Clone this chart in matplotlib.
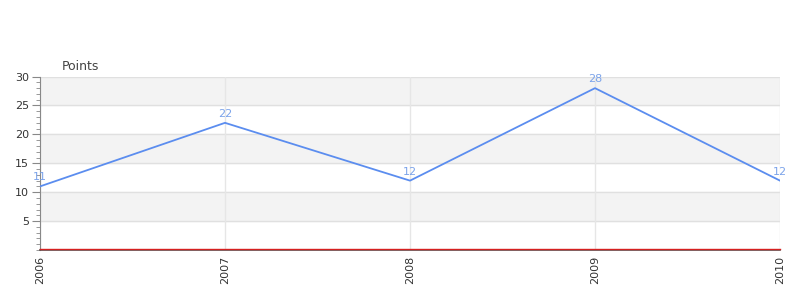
import matplotlib.pyplot as plt
import matplotlib.transforms as mtransforms

years = ["2006", "2007", "2008", "2009", "2010"]
points = [11, 22, 12, 28, 12]

fig = plt.figure(figsize=(8, 3), dpi=100)
ax = fig.add_axes([0.05, 0.1667, 0.925, 0.578])

x = list(range(len(years)))

# alternating bands
for lo in [5, 15, 25]:
    ax.axhspan(lo, lo + 5, color="#f3f3f3", zorder=0)
for y in [5, 10, 15, 20, 25, 30]:
    ax.axhline(y, color="#e0e0e0", lw=1, zorder=1)
for xi in x:
    ax.axvline(xi, color="#e6e6e6", lw=1, zorder=1)

ax.plot(x, points, color="#5b8def", lw=1.3, zorder=3)
for xi, v in zip(x, points):
    ax.text(xi, v + 0.7, str(v), color="#7ba3ea", fontsize=8, ha="center", va="bottom", zorder=4)

# red zero line sitting just above the dark axis line
shift = mtransforms.offset_copy(ax.transData, fig=fig, x=0, y=1, units="dots")
ax.plot([0, len(years) - 1], [0, 0], color="#d62020", lw=1, zorder=5,
        transform=shift, clip_on=False)

ax.set_xlim(0, len(years) - 1)
ax.set_ylim(0, 30)
ax.set_xticks(x)
ax.set_xticklabels(years, rotation=90, fontsize=8, color="#333333")
ax.set_yticks([5, 10, 15, 20, 25, 30])
ax.set_yticks(range(0, 31), minor=True)
ax.tick_params(axis="y", which="major", length=6, color="#888888", labelsize=8, labelcolor="#333333", pad=2)
ax.tick_params(axis="y", which="minor", length=3, color="#888888")
ax.tick_params(axis="x", length=0, pad=4)

for side in ["top", "right"]:
    ax.spines[side].set_visible(False)
ax.spines["left"].set_color("#888888")
ax.spines["bottom"].set_color("#555555")
ax.spines["bottom"].set_linewidth(1.2)

fig.text(62 / 800, 1 - 66 / 300, "Points", fontsize=9, color="#444444", ha="left", va="center")

fig.savefig("out.png", dpi=100)
